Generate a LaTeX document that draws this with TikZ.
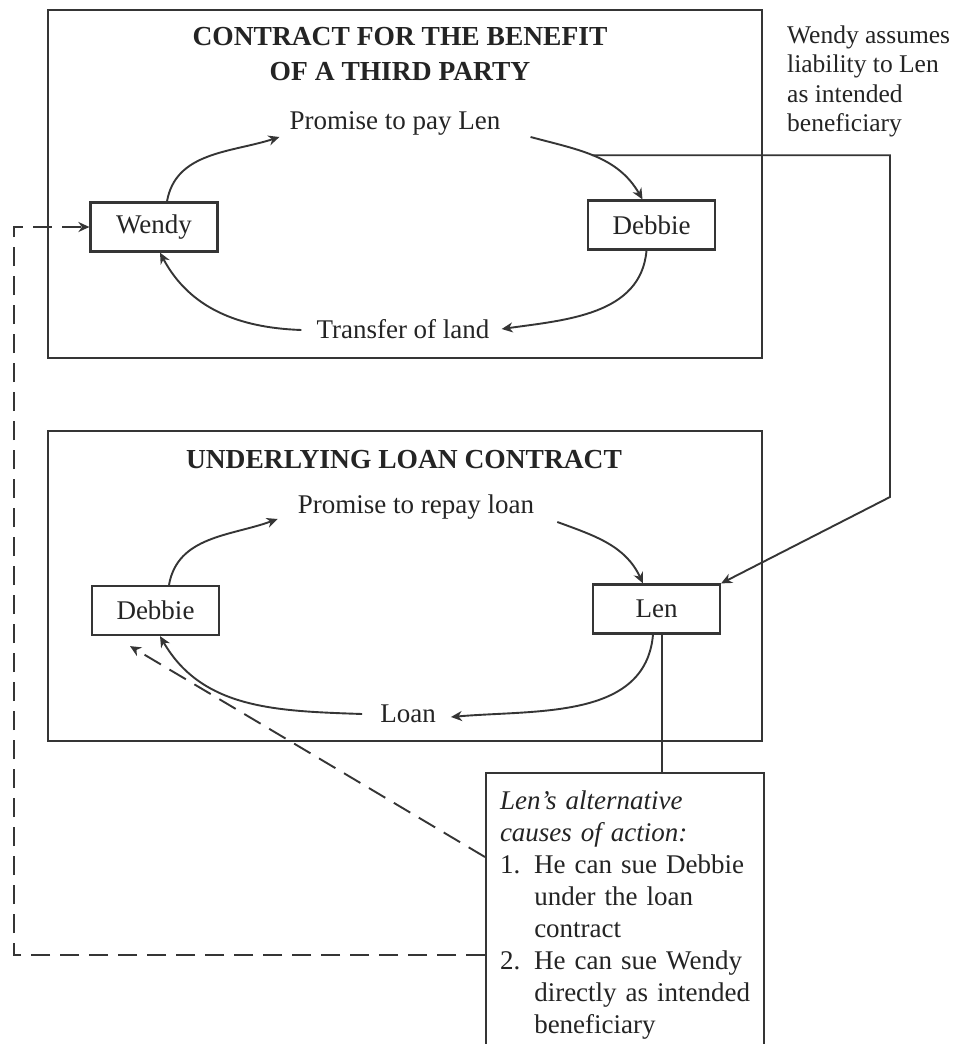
\documentclass[tikz,border=0pt]{standalone}
\usepackage{fontspec}
\setmainfont{Liberation Serif}
\usetikzlibrary{arrows.meta,calc}
\definecolor{ink}{HTML}{353535}
\definecolor{txt}{HTML}{242424}
\tikzset{
  body/.style={font=\fontsize{27}{32}\selectfont, text=txt, inner sep=0pt},
  heading/.style={font=\fontsize{27.5}{35}\selectfont\bfseries, text=txt, inner sep=0pt},
  frame/.style={draw=ink, line width=2pt, inner sep=0pt, anchor=north west},
  party/.style={draw=ink, line width=2.2pt, inner sep=0pt, minimum width=127pt,
    minimum height=49pt, font=\fontsize{27}{32}\selectfont, text=txt},
  flow/.style={draw=ink, line width=1.9pt, -{Stealth[length=11pt,width=10pt,inset=3.5pt]}},
  link/.style={draw=ink, line width=1.9pt},
  dashlink/.style={draw=ink, line width=1.9pt, dash pattern=on 19pt off 10pt,
    -{Stealth[length=11pt,width=10pt,inset=3.5pt]}},
}
\begin{document}
\begin{tikzpicture}[x=1pt,y=1pt]
\path[use as bounding box, fill=white] (0,0) rectangle (955,-1044);

% the two contract frames
\node[frame, minimum width=714pt, minimum height=348pt] (upper) at (47,-9) {};
\node[frame, minimum width=714pt, minimum height=310pt] (lower) at (47,-430) {};

% headings
\node[heading, anchor=north] (title1) at (400,-20.5)
  {\begin{tabular}{@{}c@{}}CONTRACT FOR THE BENEFIT\\OF A THIRD PARTY\end{tabular}};
\node[heading, anchor=base] (title2) at (404,-468) {UNDERLYING LOAN CONTRACT};

% parties
\node[party] (wendy) at (154,-227) {Wendy};
\node[party] (seller) at (651.5,-225) {Debbie};
\node[party] (borrower) at (155.5,-610.5) {Debbie};
\node[party] (len) at (656.5,-609) {Len};

% exchange labels
\node[body, anchor=base] (pay) at (395,-129) {Promise to pay Len};
\node[body, anchor=base] (land) at (403,-338) {Transfer of land};
\node[body, anchor=base] (repay) at (416,-513) {Promise to repay loan};
\node[body, anchor=base] (loan) at (408,-722) {Loan};

% side note
\node[body, font=\fontsize{25.5}{29.5}\selectfont, anchor=north west] (note) at (787,-22.35)
  {\begin{tabular}{@{}l@{}}Wendy assumes\\liability to Len\\as intended\\beneficiary\end{tabular}};

% Len's options
\node[draw=ink, line width=2pt, anchor=north west, text width=250pt, inner xsep=14pt,
  inner ysep=13.6pt, align=left, font=\fontsize{27}{32}\selectfont, text=txt] (causes) at (485,-772)
  {\begin{tabular}{@{}l@{\hspace{14pt}}l@{}}
   \multicolumn{2}{@{}l@{}}{\itshape Len’s alternative}\\
   \multicolumn{2}{@{}l@{}}{\itshape causes of action:}\\
   1. & He can sue Debbie\\
      & under the loan\\
      & contract\\
   2. & He can sue Wendy\\
      & directly as intended\\
      & beneficiary
   \end{tabular}};

% upper contract cycle
\draw[flow] ($(wendy.north)+(13,0)$) to[out=80,in=198] ($(pay.base west)+(-10,-8)$);
\draw[flow] ($(pay.base east)+(30,-8)$) to[out=-15,in=120] coordinate[pos=0.47] (liab)
  ($(seller.north)+(-9,0)$);
\draw[flow] ($(seller.south)+(-5,0)$) to[out=-95,in=8] ($(land.base east)+(12,9)$);
\draw[flow] ($(land.base west)+(-15,8)$) to[out=178,in=-62] ($(wendy.south)+(6,0)$);

% lower contract cycle
\draw[flow] ($(borrower.north)+(13.5,0)$) to[out=80,in=200] ($(repay.base west)+(-20,-6)$);
\draw[flow] ($(repay.base east)+(23,-9)$) to[out=-20,in=115] ($(len.north)+(-13.5,0)$);
\draw[flow] ($(len.south)+(-3.5,0)$) to[out=-95,in=5] ($(loan.base east)+(15,5)$);
\draw[flow] ($(loan.base west)+(-18,8)$) to[out=178,in=-60] ($(borrower.south)+(4.5,0)$);

% Wendy's liability to Len
\coordinate (turn) at (890,-497);
\draw[flow] (liab) -| (turn) -- (len.north east);

% Len to his options
\coordinate (drop) at ($(len.south)+(5.5,0)$);
\draw[link] (drop) -- (drop |- causes.north);

% the two suits
\path (causes.north west) ++(0,-85) coordinate (sue1);
\path (causes.north west) ++(0,-183) coordinate (sue2);
\coordinate (elbow) at (14,-955);
\draw[dashlink] (sue1) -- ($(borrower.south)+(-25.5,-10)$);
\draw[dashlink] (sue2) -- (elbow) |- (wendy.west);
\end{tikzpicture}
\end{document}
